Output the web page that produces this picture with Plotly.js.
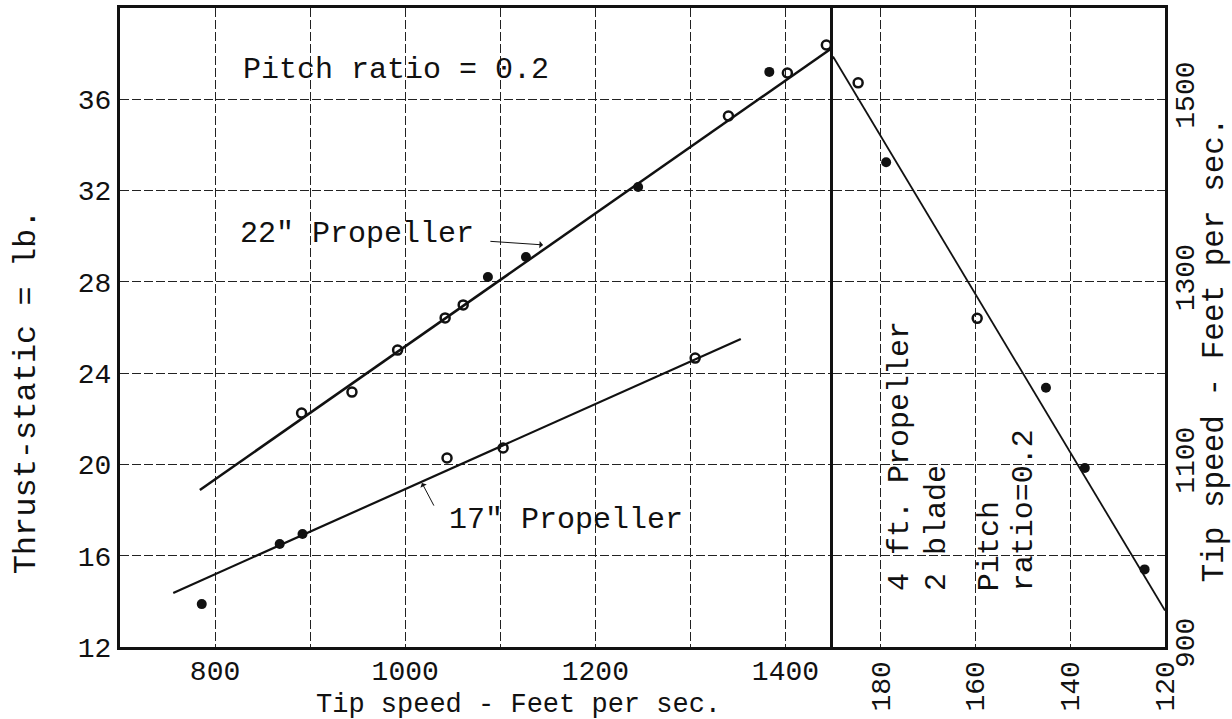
<!DOCTYPE html>
<html>
<head>
<meta charset="utf-8">
<script src="https://cdn.plot.ly/plotly-3.0.1.min.js"></script>
<style>html,body{margin:0;padding:0;background:#fff;}#chart{width:1232px;height:719px;}</style>
</head>
<body>
<div id="chart"></div>
<script>
// ---- Data ----
// 22" propeller: tip speed (ft/s) vs static thrust (lb)
const tip22Open    = [891, 944, 992, 1042, 1061, 1340, 1402, 1443];
const thrust22Open = [22.25, 23.17, 25.01, 26.42, 26.99, 35.27, 37.15, 38.38];
const tip22Filled    = [1087, 1127, 1245, 1383];
const thrust22Filled = [28.21, 29.09, 32.16, 37.2];
const tip22Fit    = [784, 1449];
const thrust22Fit = [18.88, 38.25];

// 17" propeller
const tip17Filled    = [786, 868, 892];
const thrust17Filled = [13.88, 16.51, 16.95];
const tip17Open    = [1044, 1103, 1305];
const thrust17Open = [20.28, 20.72, 24.66];
const tip17Fit    = [756, 1353];
const thrust17Fit = [14.37, 25.5];

// 4 ft. propeller, 2 blade (thrust on horizontal, tip speed on right axis)
const thrust4ftOpen = [184.7, 159.6, 118.9];
const tip4ftOpen    = [1518, 1260, 924];
const thrust4ftFilled = [178.8, 145.1, 136.9, 124.3];
const tip4ftFilled    = [1431, 1184, 1096, 985];
const thrust4ftFit = [190, 120];
const tip4ftFit    = [1547, 940];

// Tick values / labels
const xTickVals  = [800, 900, 1000, 1100, 1200, 1300, 1400];
const xTickText  = ['800', '', '1000', '', '1200', '', '1400'];
const yTickVals  = [12, 16, 20, 24, 28, 32, 36];
const yTickText  = ['12', '16', '20', '24', '28', '32', '36'];
const x2TickVals = [180, 160, 140, 120];
const x2TickText = ['180', '160', '140', '120'];
const y2TickVals = [900, 1000, 1100, 1200, 1300, 1400, 1500];
const y2TickText = ['900', '', '1100', '', '1300', '', '1500'];

// ---- Chart ----
const FONT = 'Liberation Mono, Courier New, monospace';
const INK = '#111';

const openMarker = {symbol: 'circle-open', size: 9, color: INK, line: {width: 2.5, color: INK}};
const filledMarker = {symbol: 'circle', size: 10, color: INK};

const traces = [
  {x: tip22Fit, y: thrust22Fit, mode: 'lines', line: {color: INK, width: 2.5}, xaxis: 'x', yaxis: 'y', hoverinfo: 'skip'},
  {x: tip17Fit, y: thrust17Fit, mode: 'lines', line: {color: INK, width: 2.2}, xaxis: 'x', yaxis: 'y', hoverinfo: 'skip'},
  {x: tip22Open, y: thrust22Open, mode: 'markers', marker: openMarker, xaxis: 'x', yaxis: 'y', name: '22" open'},
  {x: tip22Filled, y: thrust22Filled, mode: 'markers', marker: filledMarker, xaxis: 'x', yaxis: 'y', name: '22" filled'},
  {x: tip17Filled, y: thrust17Filled, mode: 'markers', marker: filledMarker, xaxis: 'x', yaxis: 'y', name: '17" filled'},
  {x: tip17Open, y: thrust17Open, mode: 'markers', marker: openMarker, xaxis: 'x', yaxis: 'y', name: '17" open'},
  {x: thrust4ftFit, y: tip4ftFit, mode: 'lines', line: {color: INK, width: 1.8}, xaxis: 'x2', yaxis: 'y2', hoverinfo: 'skip'},
  {x: thrust4ftOpen, y: tip4ftOpen, mode: 'markers', marker: openMarker, xaxis: 'x2', yaxis: 'y2', cliponaxis: false, name: '4 ft open'},
  {x: thrust4ftFilled, y: tip4ftFilled, mode: 'markers', marker: filledMarker, xaxis: 'x2', yaxis: 'y2', cliponaxis: false, name: '4 ft filled'}
];

const gridCommon = {
  showgrid: true, gridcolor: '#222', gridwidth: 1, griddash: '9px,3px',
  showline: true, linecolor: INK, linewidth: 3, mirror: true,
  ticks: '', zeroline: false, tickmode: 'array',
  tickfont: {family: FONT, size: 28, color: INK}
};

const split = 0.6823;

const layout = {
  width: 1232, height: 719,
  margin: {l: 120, r: 67, t: 8, b: 72},
  paper_bgcolor: '#fff', plot_bgcolor: '#fff',
  showlegend: false,
  font: {family: FONT, size: 28, color: INK},
  xaxis: Object.assign({}, gridCommon, {domain: [0, split], range: [700, 1450], anchor: 'y',
    tickvals: xTickVals, ticktext: xTickText, ticklabelstandoff: -4}),
  yaxis: Object.assign({}, gridCommon, {domain: [0, 1], range: [12, 40], anchor: 'x', mirror: false,
    tickvals: yTickVals, ticktext: yTickText}),
  xaxis2: Object.assign({}, gridCommon, {domain: [split, 1], range: [190, 120], anchor: 'y2',
    tickvals: x2TickVals, ticktext: x2TickText, tickangle: -90}),
  yaxis2: Object.assign({}, gridCommon, {domain: [0, 1], range: [900, 1600], anchor: 'x2', side: 'right',
    tickvals: y2TickVals, ticktext: y2TickText, tickangle: -90, ticklabelstandoff: -8}),
  annotations: [
    {text: 'Pitch ratio = 0.2', xref: 'x', yref: 'y', x: 990, y: 37.28, showarrow: false,
     xanchor: 'center', yanchor: 'middle', font: {family: FONT, size: 30, color: INK}},
    {text: '22" Propeller', xref: 'x', yref: 'y', x: 949, y: 30.1, showarrow: false,
     xanchor: 'center', yanchor: 'middle', font: {family: FONT, size: 30, color: INK}},
    {text: '', xref: 'x', yref: 'y', axref: 'x', ayref: 'y', x: 1145, y: 29.62, ax: 1088, ay: 29.78,
     showarrow: true, arrowhead: 1, arrowsize: 1.2, arrowwidth: 1, arrowcolor: INK},
    {text: '17" Propeller', xref: 'x', yref: 'y', x: 1169, y: 17.57, showarrow: false,
     xanchor: 'center', yanchor: 'middle', font: {family: FONT, size: 30, color: INK}},
    {text: '', xref: 'x', yref: 'y', axref: 'x', ayref: 'y', x: 1017.6, y: 19.19, ax: 1031, ay: 18.13,
     showarrow: true, arrowhead: 1, arrowsize: 1.2, arrowwidth: 1, arrowcolor: INK},
    {text: '4 ft. Propeller', xref: 'x2', yref: 'y2', x: 175.9, y: 959, textangle: -90, showarrow: false,
     xanchor: 'center', yanchor: 'bottom', font: {family: FONT, size: 30, color: INK}},
    {text: '2 blade', xref: 'x2', yref: 'y2', x: 168.1, y: 959, textangle: -90, showarrow: false,
     xanchor: 'center', yanchor: 'bottom', font: {family: FONT, size: 30, color: INK}},
    {text: 'Pitch', xref: 'x2', yref: 'y2', x: 156.9, y: 959, textangle: -90, showarrow: false,
     xanchor: 'center', yanchor: 'bottom', font: {family: FONT, size: 30, color: INK}},
    {text: 'ratio=0.2', xref: 'x2', yref: 'y2', x: 149.7, y: 959, textangle: -90, showarrow: false,
     xanchor: 'center', yanchor: 'bottom', font: {family: FONT, size: 30, color: INK}},
    {text: 'Tip speed - Feet per sec.', xref: 'paper', yref: 'paper', x: 0.381, y: -0.0905, showarrow: false,
     xanchor: 'center', yanchor: 'middle', font: {family: FONT, size: 27, color: INK}},
    {text: 'Thrust-static = lb.', xref: 'paper', yref: 'paper', x: -0.09, y: 0.40, textangle: -90, showarrow: false,
     xanchor: 'center', yanchor: 'middle', font: {family: FONT, size: 32, color: INK}},
    {text: 'Tip speed - Feet per sec.', xref: 'paper', yref: 'paper', x: 1.0475, y: 0.465, textangle: -90, showarrow: false,
     xanchor: 'center', yanchor: 'middle', font: {family: FONT, size: 31, color: INK}}
  ]
};

Plotly.newPlot('chart', traces, layout, {displayModeBar: false, staticPlot: true});
</script>
</body>
</html>
